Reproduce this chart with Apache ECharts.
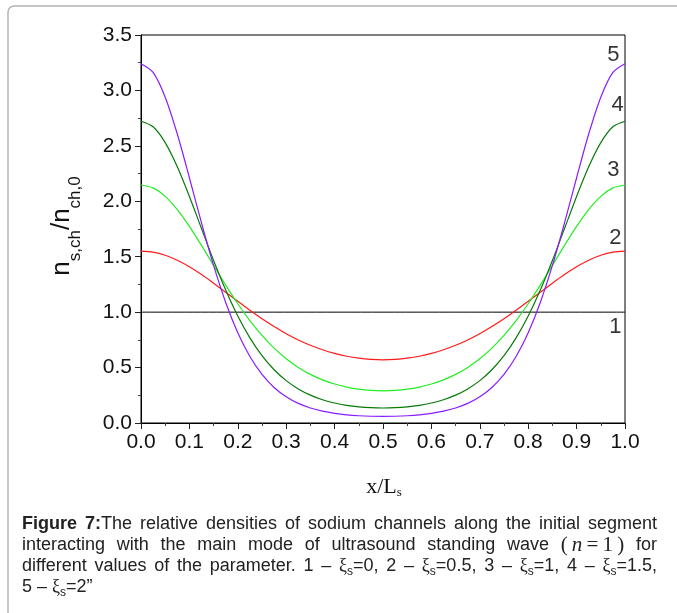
<!DOCTYPE html>
<html>
<head>
<meta charset="utf-8">
<script src="https://cdn.jsdelivr.net/npm/echarts@6/dist/echarts.min.js"></script>
<style>
  html, body { margin: 0; padding: 0; background: #fff; }
  #chart { width: 677px; height: 613px; }
</style>
</head>
<body>
<div id="chart"></div>
<script>
// Position along the initial segment, x/Ls
const xPos = [0.000,0.025,0.050,0.075,0.100,0.125,0.150,0.175,0.200,0.225,0.250,0.275,0.300,0.325,0.350,0.375,0.400,0.425,0.450,0.475,0.500,
              0.525,0.550,0.575,0.600,0.625,0.650,0.675,0.700,0.725,0.750,0.775,0.800,0.825,0.850,0.875,0.900,0.925,0.950,0.975,1.000];

// Curve 1, xi_s = 0 (uniform density)
const xPosFlat = [0.0, 1.0];
const density1 = [1.0, 1.0];
// Curve 2, xi_s = 0.5
const density2 = [1.5503,1.5408,1.5128,1.4681,1.4092,1.3391,1.2616,1.1799,1.0974,1.0168,0.9403,0.8696,0.8057,0.7494,0.7009,0.6603,0.6275,0.6023,0.5845,0.5738,0.5703,
                  0.5738,0.5845,0.6023,0.6275,0.6603,0.7009,0.7494,0.8057,0.8696,0.9403,1.0168,1.0974,1.1799,1.2616,1.3391,1.4092,1.4681,1.5128,1.5408,1.5503];
// Curve 3, xi_s = 1
const density3 = [2.1470,2.1208,2.0445,1.9253,1.7740,1.6019,1.4218,1.2437,1.0758,0.9236,0.7898,0.6755,0.5799,0.5016,0.4388,0.3895,0.3517,0.3240,0.3051,0.2942,0.2906,
                  0.2942,0.3051,0.3240,0.3517,0.3895,0.4388,0.5016,0.5799,0.6755,0.7898,0.9236,1.0758,1.2437,1.4218,1.6019,1.7740,1.9253,2.0445,2.1208,2.1470];
// Curve 4, xi_s = 1.5
const density4 = [2.7216,2.6718,2.5290,2.3111,2.0437,1.7540,1.4666,1.1999,0.9654,0.7679,0.6073,0.4803,0.3820,0.3073,0.2515,0.2102,0.1804,0.1596,0.1458,0.1380,0.1355,
                  0.1380,0.1458,0.1596,0.1804,0.2102,0.2515,0.3073,0.3820,0.4803,0.6073,0.7679,0.9654,1.1999,1.4666,1.7540,2.0437,2.3111,2.5290,2.6718,2.7216];
// Curve 5, xi_s = 2
const density5 = [3.2414,3.1626,2.9392,2.6066,2.2125,1.8044,1.4213,1.0876,0.8139,0.5998,0.4387,0.3208,0.2364,0.1769,0.1354,0.1066,0.0870,0.0738,0.0655,0.0608,0.0594,
                  0.0608,0.0655,0.0738,0.0870,0.1066,0.1354,0.1769,0.2364,0.3208,0.4387,0.5998,0.8139,1.0876,1.4213,1.8044,2.2125,2.6066,2.9392,3.1626,3.2414];

const curveNames = ['1', '2', '3', '4', '5'];

// Axis ranges and ticks
const xMin = 0, xMax = 1, xStep = 0.1;
const yMin = 0, yMax = 3.5, yStep = 0.5;

// Caption, one entry per printed line; {style|text} marks rich-text runs
const captionLines = [
  '{b|Figure} {b|7:}The relative densities of sodium channels along the initial segment',
  'interacting with the main mode of ultrasound standing wave {m|(\u2009}{n|n}{m|\u2009=\u20091\u2009)} for',
  'different values of the parameter. 1 \u2013 {g|\u03be}{s|s}=0, 2 \u2013 {g|\u03be}{s|s}=0.5, 3 \u2013 {g|\u03be}{s|s}=1, 4 \u2013 {g|\u03be}{s|s}=1.5,',
  '5 \u2013 {g|\u03be}{s|s}=2\u201d'
];

const SANS = 'Liberation Sans';
const SERIF = 'Liberation Serif';

const chart = echarts.init(document.getElementById('chart'), null, { renderer: 'canvas' });

const pairs = (xs, ys) => xs.map((x, i) => [x, ys[i]]);
const lineSeries = (name, xs, ys, color, width) => ({
  name, type: 'line', data: pairs(xs, ys), showSymbol: false, smooth: 0.3,
  lineStyle: { color, width }, silent: true, z: 3
});

// Curve number tags, in data units
const tagSpots = [
  { name: '5', value: [0.976, 3.32] },
  { name: '4', value: [0.985, 2.87] },
  { name: '3', value: [0.976, 2.28] },
  { name: '2', value: [0.980, 1.67] },
  { name: '1', value: [0.980, 0.87] }
];

const captionRich = {
  t: { fontSize: 18, fontFamily: SANS, lineHeight: 24 },
  b: { fontSize: 18, fontFamily: SANS, fontWeight: 'bold', lineHeight: 24 },
  g: { fontSize: 18, fontFamily: SERIF, lineHeight: 24 },
  s: { fontSize: 12, fontFamily: SANS, lineHeight: 12, padding: [11, 0, 0, 0] },
  n: { fontSize: 21, fontFamily: SERIF, fontStyle: 'italic', lineHeight: 24 },
  m: { fontSize: 21, fontFamily: SERIF, lineHeight: 24 }
};

const measureCtx = document.createElement('canvas').getContext('2d');
function runsOf(word) {
  const runs = [];
  const re = /\{(\w+)\|([^}]*)\}|([^{]+)/g;
  let m;
  while ((m = re.exec(word))) {
    if (m[3] !== undefined) runs.push({ st: 't', txt: m[3] });
    else runs.push({ st: m[1], txt: m[2] });
  }
  return runs;
}
function wordWidth(word) {
  let w = 0;
  runsOf(word).forEach(r => {
    const s = captionRich[r.st];
    measureCtx.font = `${s.fontStyle || 'normal'} ${s.fontWeight || 'normal'} ${s.fontSize}px "${s.fontFamily}"`;
    w += measureCtx.measureText(r.txt).width;
  });
  return w;
}

function captionGraphics() {
  const left = 22, right = 657, top = 524, step = 21;
  const out = [];
  const space = wordWidth(' ');
  captionLines.forEach((line, li) => {
    const words = line.split(' ');
    const widths = words.map(wordWidth);
    const total = widths.reduce((a, b) => a + b, 0);
    const justify = li < captionLines.length - 1;
    const gap = justify ? Math.max(2, (right - left - total) / (words.length - 1)) : space;
    let x = left;
    words.forEach((w, wi) => {
      out.push({
        type: 'text', x, y: top + li * step, silent: true,
        style: {
          text: w, rich: captionRich, fontSize: 18, fontFamily: SANS,
          fill: '#222', align: 'left', verticalAlign: 'middle'
        }
      });
      x += widths[wi] + gap;
    });
  });
  return out;
}

const axisCommon = {
  axisLine: { show: true, onZero: false, lineStyle: { color: '#000', width: 1 } },
  axisTick: { show: true, length: 6, lineStyle: { color: '#222' } },
  minorTick: { show: true, splitNumber: 2, length: 3, lineStyle: { color: '#444' } },
  splitLine: { show: false },
  axisLabel: {
    margin: 9, fontSize: 21, fontFamily: SANS, color: '#111',
    formatter: v => v.toFixed(1)
  }
};

const option = {
  animation: false,
  backgroundColor: '#fff',
  grid: {
    left: 141, right: 52, top: 35, bottom: 190,
    show: true, borderColor: '#000', borderWidth: 1, backgroundColor: 'transparent'
  },
  xAxis: Object.assign({ type: 'value', min: xMin, max: xMax, interval: xStep }, axisCommon),
  yAxis: Object.assign({ type: 'value', min: yMin, max: yMax, interval: yStep }, axisCommon),
  series: [
    lineSeries(curveNames[0], xPosFlat, density1, '#000000', 1),
    lineSeries(curveNames[1], xPos, density2, '#ff1a1a', 1.2),
    lineSeries(curveNames[2], xPos, density3, '#22ee22', 1.2),
    lineSeries(curveNames[3], xPos, density4, '#087a08', 1.2),
    lineSeries(curveNames[4], xPos, density5, '#8a1cff', 1.2),
    {
      type: 'scatter', data: tagSpots, symbolSize: 0, silent: true, z: 5,
      label: {
        show: true, position: 'inside', formatter: p => p.name,
        fontSize: 22, fontFamily: SANS, color: '#000'
      }
    }
  ],
  graphic: [
    {
      type: 'rect', silent: true, z: -1,
      shape: { x: 8, y: 6, width: 720, height: 700, r: 6 },
      style: { fill: 'none', stroke: '#b4b4b4', lineWidth: 1.5 }
    },
    {
      type: 'text', x: 62, y: 226, rotation: Math.PI / 2, silent: true,
      style: {
        text: '{m|n}{s|s,ch}{m|/n}{s|ch,0}',
        rich: {
          m: { fontSize: 26, fontFamily: SANS, lineHeight: 44 },
          s: { fontSize: 17, fontFamily: SANS, lineHeight: 17, padding: [26, 0, 0, 0] }
        },
        fill: '#111', align: 'center', verticalAlign: 'middle'
      }
    },
    {
      type: 'text', x: 384, y: 487, silent: true,
      style: {
        text: '{m|x/L}{s|s}',
        rich: {
          m: { fontSize: 22, fontFamily: SERIF, lineHeight: 26 },
          s: { fontSize: 13, fontFamily: SERIF, lineHeight: 13, padding: [12, 0, 0, 0] }
        },
        fill: '#111', align: 'center', verticalAlign: 'middle'
      }
    }
  ].concat(captionGraphics())
};

chart.setOption(option);
</script>
</body>
</html>
